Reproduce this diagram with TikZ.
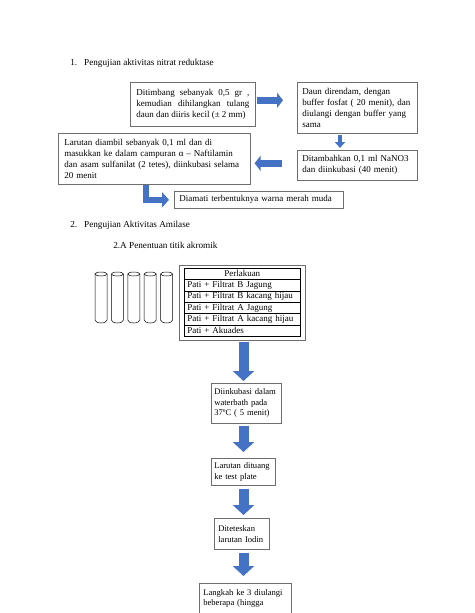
\documentclass[tikz,border=0pt]{standalone}
\usepackage{fontspec}
\setmainfont{Liberation Serif}
\usetikzlibrary{arrows.meta}
\usetikzlibrary{calc}
\definecolor{biru1}{RGB}{68, 114, 196}
\definecolor{abu1}{RGB}{110, 110, 110}

\newcommand{\judul}{\fontsize{9.2}{11}\selectfont}
\newcommand{\isi}{\fontsize{9}{11}\selectfont}
\newcommand{\alur}{\fontsize{8.6}{10.6}\selectfont}

\begin{document}
\begin{tikzpicture}[x=1pt, y=-1pt, line width=.6pt,
  kotak/.style={draw=abu1, anchor=north west, inner xsep=5pt, inner ysep=0pt, align=left, font=\isi},
  kotakalur/.style={kotak, font=\alur, inner xsep=3pt},
  baris/.style={draw=black, line width=.5pt, anchor=north west, inner xsep=3pt, inner ysep=0pt, text width=110pt, minimum height=11.33pt, font=\isi},
  panahsedang/.style={draw=biru1, line width=7pt, -{Triangle[width=15pt,length=6pt]}},
  panahtipis/.style={draw=biru1, line width=4pt, -{Triangle[width=10pt,length=6pt]}},
  panahbengkok/.style={draw=biru1, line width=6pt, line join=miter, -{Triangle[width=15pt,length=7pt]}},
  panahbesar/.style={draw=biru1, line width=10pt, -{Triangle[width=21pt,length=10pt]}}]

  \path[use as bounding box, fill=white] (0,0) rectangle (474,613);

  % 1. nitrat reduktase
  \node[anchor=base west, inner sep=0pt, font=\judul] (judul1) at (70,65) {1.\hspace{7pt}Pengujian aktivitas nitrat reduktase};
  \node[kotak, align=justify, inner xsep=6pt, text width=113pt, minimum height=44pt] (timbang) at (130,82)
    {Ditimbang sebanyak 0,5 gr ,\linebreak kemudian dihilangkan tulang\linebreak daun dan diiris kecil (± 2 mm)};
  \node[kotak, text width=110pt, minimum height=51pt] (rendam) at (297,82)
    {Daun direndam, dengan\\ buffer fosfat ( 20 menit), dan\\ diulangi dengan buffer yang\\ sama};
  \node[kotak, text width=110pt, minimum height=30pt] (tambah) at (297,150)
    {Ditambahkan 0,1 ml NaNO3\\ dan diinkubasi (40 menit)};
  \node[kotak, inner xsep=6pt, text width=180pt, minimum height=51pt] (ambil) at (58,133)
    {Larutan diambil sebanyak 0,1 ml dan di\\ masukkan ke dalam campuran α – Naftilamin\\ dan asam sulfanilat (2 tetes), diinkubasi selama\\ 20 menit};
  \node[kotak, text width=159pt, minimum height=17pt] (amati) at (174,191)
    {Diamati terbentuknya warna merah muda};

  \coordinate (sumbu1) at (340,0);
  \coordinate (sumbu2) at (146,0);
  \draw[panahsedang, shorten <=1pt, shorten >=14pt] ([yshift=4pt]timbang.east) -- ([yshift=4pt]timbang.east -| rendam.west);
  \draw[panahtipis, shorten <=1pt, shorten >=2pt] (sumbu1 |- rendam.south) -- (sumbu1 |- tambah.north);
  \draw[panahsedang, shorten <=15pt, shorten >=4pt] ([yshift=2pt]tambah.west) -- ([yshift=2pt]tambah.west -| ambil.east);
  \draw[panahbengkok, shorten >=5pt] (sumbu2 |- ambil.south) |- (amati.west);

  % 2. amilase
  \node[anchor=base west, inner sep=0pt, font=\judul] (judul2) at (70,227) {2.\hspace{7pt}Pengujian Aktivitas Amilase};
  \node[anchor=base west, inner sep=0pt, font=\judul] (subjudul) at (113,248) {2.A Penentuan titik akromik};

  % tabung reaksi
  \foreach \x in {101,117.4,133.8,150.2,166.6} {
    \draw[line width=.5pt] (\x-6,274) -- (\x-6,320) arc[start angle=180, end angle=0, x radius=6, y radius=3] -- (\x+6,274);
    \draw[line width=.5pt] (\x,274) ellipse [x radius=6, y radius=2];
  }

  \node[kotak, minimum width=126pt, minimum height=75pt] (wadah) at (179,265) {};
  \node[baris, align=center] (baris0) at (184,268) {Perlakuan};
  \foreach \teks [count=\i] in {Pati + Filtrat B Jagung, Pati + Filtrat B kacang hijau, Pati + Filtrat A Jagung, Pati + Filtrat A kacang hijau, Pati + Akuades}
    \node[baris, align=left] (baris\i) at (184,268+11.33*\i) {\teks};

  \node[kotakalur, text width=64pt, minimum height=40pt] (inkubasi) at (211,383)
    {Diinkubasi dalam\\ waterbath pada\\ 37ºC ( 5 menit)};
  \node[kotakalur, text width=58pt, minimum height=27pt] (dituang) at (211,458)
    {Larutan dituang\\ ke test plate};
  \node[kotakalur, inner xsep=4pt, text width=47pt, minimum height=31pt] (iodin) at (214,518)
    {Diteteskan\\ larutan Iodin};
  \node[kotakalur, inner xsep=4pt, inner ysep=6pt, text width=84pt, text depth=30pt] (langkah) at (199,583)
    {Langkah ke 3 diulangi\\ beberapa (hingga};

  \coordinate (sumbu3) at (243.5,0);
  \foreach \dari/\ke/\awal/\akhir in {wadah/inkubasi/1pt/2pt, inkubasi/dituang/2pt/6pt, dituang/iodin/3pt/3pt, iodin/langkah/3pt/7pt}
    \draw[panahbesar, shorten <=\awal, shorten >=\akhir] (sumbu3 |- \dari.south) -- (sumbu3 |- \ke.north);
\end{tikzpicture}
\end{document}
